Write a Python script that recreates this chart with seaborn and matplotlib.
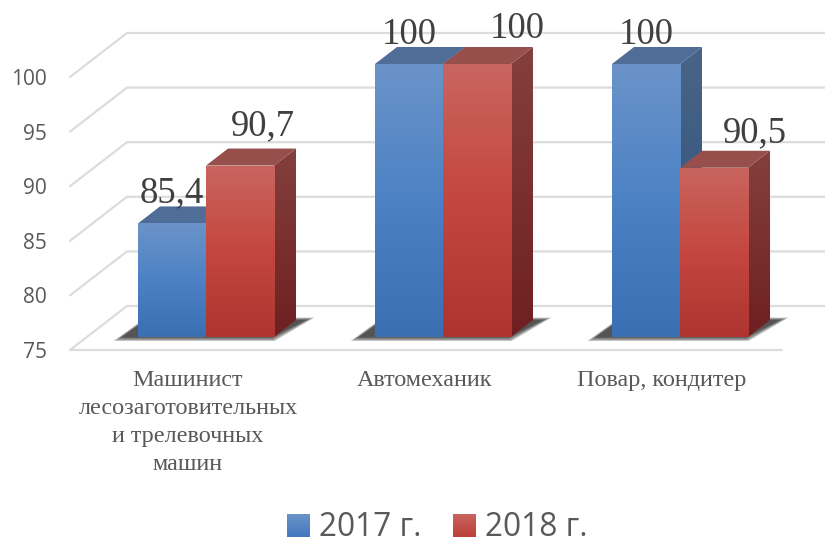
import numpy as np
import pandas as pd
import seaborn as sns
import matplotlib.pyplot as plt
from matplotlib.colors import LinearSegmentedColormap
from matplotlib.patches import Polygon
from matplotlib.transforms import ScaledTranslation

# data
professions = ['Машинист\nлесозаготовительных\nи трелевочных\nмашин', 'Автомеханик', 'Повар, кондитер']
values_2017 = [85.4, 100, 100]
values_2018 = [90.7, 100, 90.5]
label_2017 = ['85,4', '100', '100']
label_2018 = ['90,7', '100', '90,5']
years = ['2017 г.', '2018 г.']
y_ticks = [75, 80, 85, 90, 95, 100]

W, H = 825, 538
PX_X = 1 / 237      # one pixel in category units
PX_Y = 1 / 10.92    # one pixel in value units

sns.set_theme(style='white')
plt.rcParams['font.family'] = ['Liberation Serif', 'DejaVu Sans']

df = pd.DataFrame({
    'profession': professions * 2,
    'year': [years[0]] * 3 + [years[1]] * 3,
    'value': values_2017 + values_2018,
})

fig = plt.figure(figsize=(W / 100, H / 100), dpi=100, facecolor='white')
ax = fig.add_axes([0, 0, 1, 1])

sns.barplot(data=df, x='profession', y='value', hue='year', width=0.574, gap=0,
            palette=['#4f86c6', '#c4463f'], saturation=1, ax=ax, legend=True)

xlim = (-206 * PX_X, (W - 206) * PX_X)
ylim = (75 - (H - 337) * PX_Y, 75 + 337 * PX_Y)

# 3d look: gradients per face
front_cm = [
    LinearSegmentedColormap.from_list('b', ['#6b93c9', '#4c82c4', '#3a70b3']),
    LinearSegmentedColormap.from_list('r', ['#c9655f', '#c4473f', '#ad3430']),
]
side_cm = [
    LinearSegmentedColormap.from_list('bs', ['#496488', '#2c5078']),
    LinearSegmentedColormap.from_list('rs', ['#84403c', '#6f1f21']),
]
top_col = ['#506d98', '#974f4c']
grad = np.linspace(0, 1, 256).reshape(-1, 1)


def paint(patch, cmap, x0, x1, y0, y1, z):
    im = ax.imshow(grad, cmap=cmap, extent=(x0, x1, y0, y1), aspect='auto', origin='upper',
                   interpolation='bilinear', zorder=z)
    im.set_clip_path(patch)


depth_x = 22 * PX_X
depth_y = 17 * PX_Y

for k, cont in enumerate(ax.containers):
    for bar in cont:
        top = bar.get_height()
        bar.set_y(75)
        bar.set_height(top - 75)
        bar.set_zorder(4)
        bar.set_linewidth(0)
        x0, x1 = bar.get_x(), bar.get_x() + bar.get_width()
        paint(bar, front_cm[k], x0, x1, 75, top, 4.1)
        side = Polygon([(x1, 75), (x1 + depth_x, 75 + depth_y),
                        (x1 + depth_x, top + depth_y), (x1, top)],
                       facecolor='none', edgecolor='none', zorder=3 + k * 0.2)
        ax.add_patch(side)
        paint(side, side_cm[k], x1, x1 + depth_x, 75, top + depth_y, 3 + k * 0.2)
        ax.add_patch(Polygon([(x0, top), (x1, top), (x1 + depth_x, top + depth_y),
                              (x0 + depth_x, top + depth_y)],
                             facecolor=top_col[k], edgecolor='none', zorder=3.1 + k * 0.2))

# soft floor shadow for each pair of bars
blue_bars, red_bars = ax.containers
for b, r in zip(blue_bars, red_bars):
    left, right = b.get_x(), r.get_x() + r.get_width()
    for grow in np.arange(-7, 3):
        lo = 75 + (-3.5 - min(grow, 1) * 0.5) * PX_Y
        hi = 75 + (19 + grow * 0.3) * PX_Y
        ax.add_patch(Polygon([(left + (-23 - grow) * PX_X, lo), (right + grow * 0.4 * PX_X, lo),
                              (right + (39 + grow) * PX_X, hi), (left + 8 * PX_X, hi)],
                             facecolor='black', alpha=0.1, edgecolor='none', zorder=2))

# grid lines on the walls of the 3d box
wall_front = -13 * PX_Y
wall_back = 31 * PX_Y
x_front = xlim[0] + 70 * PX_X
x_back = xlim[0] + 127 * PX_X
for v in y_ticks:
    ax.plot([x_front, x_back, xlim[1]], [v + wall_front, v + wall_back, v + wall_back],
            color='#dcdcdc', lw=1.6, zorder=1, solid_joinstyle='miter')
ax.plot([x_front, xlim[0] + 782 * PX_X], [75 + wall_front] * 2, color='#dcdcdc', lw=1.6, zorder=1)

# value labels
label_dx = [[0, 0, 0], [23, 40, 41]]
label_dy = [[21, 20, 20], [30, 26, 26]]
for k, (cont, labels) in enumerate(zip(ax.containers, [label_2017, label_2018])):
    for j, (bar, lab) in enumerate(zip(cont, labels)):
        ax.annotate(lab, (bar.get_x() + bar.get_width() / 2, bar.get_y() + bar.get_height()),
                    xytext=(label_dx[k][j] * 0.72, label_dy[k][j] * 0.72), textcoords='offset points',
                    ha='center', va='baseline', fontsize=26.5, color='#404040', zorder=6)

ax.set_xlim(xlim)
ax.set_ylim(ylim)
ax.set_xlabel('')
ax.set_ylabel('')
for s in ax.spines.values():
    s.set_visible(False)
ax.set_facecolor('white')

ax.set_yticks(y_ticks)
ax.tick_params(axis='y', length=0, pad=-47 * 0.72, labelsize=15, labelcolor='#595959')
ax.tick_params(axis='x', length=0, pad=-168 * 0.72, labelsize=17.4, labelcolor='#595959')
for t in ax.get_yticklabels():
    t.set_family('Open Sans')
    t.set_transform(t.get_transform() + ScaledTranslation(0, -13 / 100, fig.dpi_scale_trans))
for t in ax.get_xticklabels():
    t.set_linespacing(1.44)
    t.set_transform(t.get_transform() + ScaledTranslation(-18 / 100, 0, fig.dpi_scale_trans))

leg = ax.legend(loc='lower center', bbox_to_anchor=(0.5303, -0.012), ncol=2, frameon=False,
                prop={'family': 'Open Sans', 'size': 22.8}, labelcolor='#595959',
                handlelength=0.71, handleheight=0.71, handletextpad=0.3, columnspacing=0.98,
                borderpad=0, borderaxespad=0)

# gradient on legend squares
fig.canvas.draw()
inv = ax.transData.inverted()
legend_cm = [
    LinearSegmentedColormap.from_list('lb', ['#6b93c9', '#4378bd']),
    LinearSegmentedColormap.from_list('lr', ['#c9655f', '#bd3f39']),
]
for k, h in enumerate(leg.get_patches()):
    h.set_linewidth(0)
    e = h.get_window_extent()
    (a, c), (b, d) = inv.transform([(e.x0, e.y0), (e.x1, e.y1)])
    ax.imshow(grad, cmap=legend_cm[k], extent=(a, b, c, d), aspect='auto', origin='upper', zorder=7)
ax.set_xlim(xlim)
ax.set_ylim(ylim)

fig.savefig('out.png', dpi=100, facecolor='white')
